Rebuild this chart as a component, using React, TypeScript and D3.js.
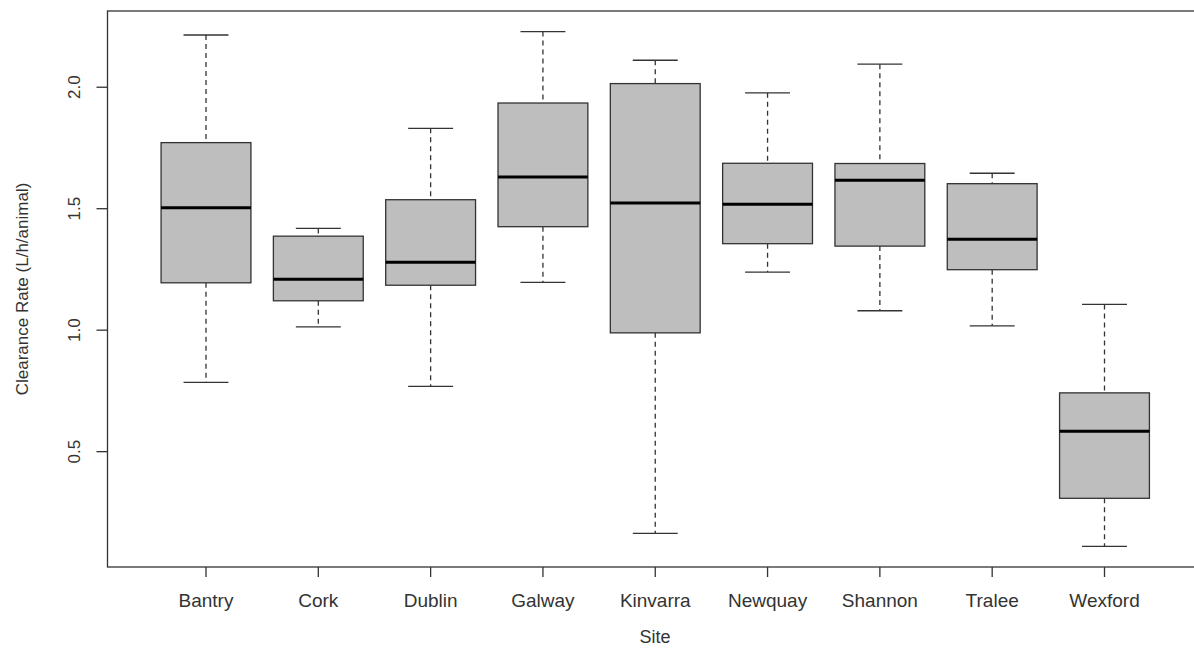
import React from "react";
import { scaleLinear } from "d3";

// five-number summaries
const sites = ["Bantry", "Cork", "Dublin", "Galway", "Kinvarra", "Newquay", "Shannon", "Tralee", "Wexford"];
const lowerWhisker = [0.785, 1.014, 0.769, 1.197, 0.164, 1.239, 1.08, 1.018, 0.11];
const q1 = [1.195, 1.121, 1.185, 1.426, 0.989, 1.356, 1.346, 1.249, 0.308];
const median = [1.504, 1.21, 1.28, 1.63, 1.523, 1.518, 1.617, 1.374, 0.584];
const q3 = [1.772, 1.387, 1.537, 1.935, 2.015, 1.687, 1.686, 1.603, 0.742];
const upperWhisker = [2.215, 1.419, 1.831, 2.229, 2.111, 1.977, 2.095, 1.646, 1.106];
const yTicks = [0.5, 1.0, 1.5, 2.0];

const W = 1194;
const H = 658;
const left = 107.5;
const right = 1202.5;
const top = 11;
const bottom = 567;
const font = "'Liberation Sans', Arial, sans-serif";

export default function App() {
  const lo = Math.min(...lowerWhisker);
  const hi = Math.max(...upperWhisker);
  const pad = (hi - lo) * 0.04;

  const y = scaleLinear().domain([lo - pad, hi + pad]).range([bottom, top]);
  const x = scaleLinear().domain([1, sites.length]).range([206, 1104.5]);
  const step = x(2) - x(1);
  const boxW = step * 0.8;
  const capW = boxW * 0.5;

  return (
    <svg width={W} height={H} style={{ position: "absolute", left: 0, top: 0, background: "#fff" }}>
      {/* boxes */}
      {sites.map((s, i) => {
        const cx = x(i + 1);
        return (
          <g key={s}>
            <line x1={cx} x2={cx} y1={y(upperWhisker[i])} y2={y(q3[i])} stroke="#333" strokeWidth={1.3} strokeDasharray="5,4" />
            <line x1={cx} x2={cx} y1={y(q1[i])} y2={y(lowerWhisker[i])} stroke="#333" strokeWidth={1.3} strokeDasharray="5,4" />
            <line x1={cx - capW / 2} x2={cx + capW / 2} y1={y(upperWhisker[i])} y2={y(upperWhisker[i])} stroke="#333" strokeWidth={1.3} />
            <line x1={cx - capW / 2} x2={cx + capW / 2} y1={y(lowerWhisker[i])} y2={y(lowerWhisker[i])} stroke="#333" strokeWidth={1.3} />
            <rect x={cx - boxW / 2} y={y(q3[i])} width={boxW} height={y(q1[i]) - y(q3[i])} fill="#bebebe" stroke="#333" strokeWidth={1.3} />
            <line x1={cx - boxW / 2} x2={cx + boxW / 2} y1={y(median[i])} y2={y(median[i])} stroke="#000" strokeWidth={3} />
          </g>
        );
      })}

      {/* frame */}
      <rect x={left} y={top} width={right - left} height={bottom - top} fill="none" stroke="#333" strokeWidth={1.3} />

      {/* x axis */}
      {sites.map((s, i) => (
        <g key={"xt" + s}>
          <line x1={x(i + 1)} x2={x(i + 1)} y1={bottom} y2={bottom + 10} stroke="#333" strokeWidth={1.3} />
          <text x={x(i + 1)} y={607} textAnchor="middle" fontFamily={font} fontSize={19} fill="#333">
            {s}
          </text>
        </g>
      ))}
      <text x={(left + right) / 2} y={643} textAnchor="middle" fontFamily={font} fontSize={18} fill="#333">
        Site
      </text>

      {/* y axis */}
      {yTicks.map((t) => (
        <g key={"yt" + t}>
          <line x1={left - 11} x2={left} y1={y(t)} y2={y(t)} stroke="#333" strokeWidth={1.3} />
          <text
            transform={`translate(80,${y(t)}) rotate(-90)`}
            textAnchor="middle"
            fontFamily={font}
            fontSize={17}
            fill="#333"
          >
            {t.toFixed(1)}
          </text>
        </g>
      ))}
      <text
        transform={`translate(28,${(top + bottom) / 2}) rotate(-90)`}
        textAnchor="middle"
        fontFamily={font}
        fontSize={17}
        fill="#333"
      >
        Clearance Rate (L/h/animal)
      </text>
    </svg>
  );
}
